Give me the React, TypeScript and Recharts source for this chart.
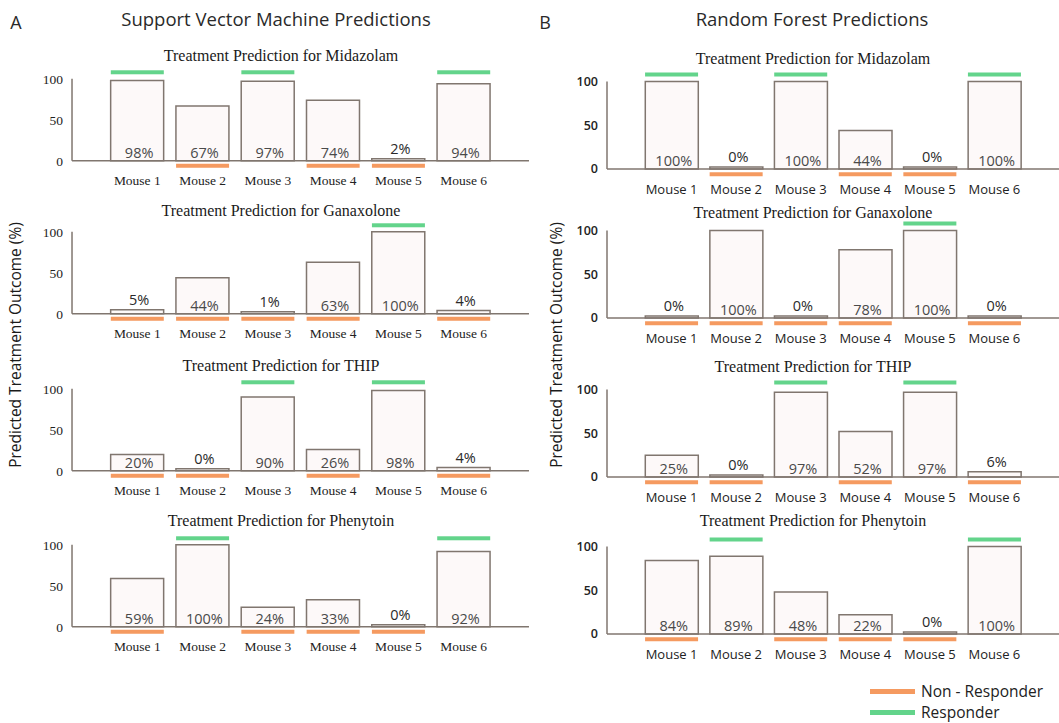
import React from 'react';
import { ComposedChart, Bar, Scatter, XAxis, YAxis, ReferenceLine, LabelList } from 'recharts';

const mice = [1, 2, 3, 4, 5, 6];
const mouseLabels = ['Mouse 1', 'Mouse 2', 'Mouse 3', 'Mouse 4', 'Mouse 5', 'Mouse 6'];
const drugs = ['Midazolam', 'Ganaxolone', 'THIP', 'Phenytoin'];
const yTicks = [0, 50, 100];

// predicted treatment outcome (%) per mouse
const svmMidazolam = [98, 67, 97, 74, 2, 94];
const svmGanaxolone = [5, 44, 1, 63, 100, 4];
const svmThip = [20, 0, 90, 26, 98, 4];
const svmPhenytoin = [59, 100, 24, 33, 0, 92];

const rfMidazolam = [100, 0, 100, 44, 0, 100];
const rfGanaxolone = [0, 100, 0, 78, 100, 0];
const rfThip = [25, 0, 97, 52, 97, 6];
const rfPhenytoin = [84, 89, 48, 22, 0, 100];

// actual outcome: true = responder, false = non-responder
const respMidazolam = [true, false, true, false, false, true];
const respGanaxolone = [false, false, false, false, true, false];
const respThip = [false, false, true, false, true, false];
const respPhenytoin = [false, true, false, false, false, true];

const RESP_LEVEL = 108;
const NON_LEVEL = -6;

const GREEN = '#63d48b';
const ORANGE = '#f59a60';
const EDGE = '#80766f';
const FILL = '#fdf9f9';
const SERIF = '"Liberation Serif", "DejaVu Serif", serif';
const SANS = '"Open Sans", "Liberation Sans", sans-serif';

const svmSets = [svmMidazolam, svmGanaxolone, svmThip, svmPhenytoin];
const rfSets = [rfMidazolam, rfGanaxolone, rfThip, rfPhenytoin];
const respSets = [respMidazolam, respGanaxolone, respThip, respPhenytoin];

// pixel layout of the small panels
const panelA = { left: 22, width: 507, k: 0.82, zeros: [161, 314, 471, 627], titleX: 281, titles: [56, 211, 366, 521], serif: true };
const panelB = { left: 557, width: 502, k: 0.875, zeros: [169, 318, 477, 634], titleX: 813, titles: [59, 213, 367, 521], serif: false };

const PctLabel = (props: any) => {
  const vb = props.viewBox && props.viewBox.width != null ? props.viewBox : props;
  const { x, y, width, height } = vb;
  const base = y + height;
  const small = height < 10;
  const cy = small ? y - 10 : base - 8;
  return (
    <text x={x + width / 2 + 2} y={cy} dy="0.35em" textAnchor="middle" fontFamily={SANS} fontSize={14.5}
      fill={small ? '#2a2a2a' : '#4a4a4a'}>
      {props.value}%
    </text>
  );
};

const markShape = (color: string) => (props: any) => (
  <rect x={props.cx - 26.5} y={props.cy - 2} width={53} height={4} fill={color} />
);

function PredictionPlot({ values, responders, left, width, zero, k, serif }: any) {
  const rows = mice.map((m, i) => ({ x: m, v: values[i], resp: RESP_LEVEL, non: NON_LEVEL, isResp: responders[i] }));
  const respRows = rows.filter((r) => r.isResp);
  const nonRows = rows.filter((r) => !r.isResp);
  const top = zero - 112 * k;
  const height = 124 * k + 22;
  const xTickFont = serif
    ? { fontFamily: SERIF, fontSize: 13.5, fill: '#222' }
    : { fontFamily: SANS, fontSize: 13, fill: '#222' };
  const yTickFont = serif
    ? { fontFamily: SERIF, fontSize: 13.5, fill: '#222' }
    : { fontFamily: SANS, fontSize: 12.5, fill: '#222', fontWeight: 600 };
  return (
    <div style={{ position: 'absolute', left, top }}>
      <ComposedChart width={width} height={height} data={rows} margin={{ top: 0, right: 0, bottom: 0, left: 0 }}>
        <XAxis type="number" dataKey="x" domain={[0, 7]} ticks={mice} interval={0}
          tickFormatter={(m: number) => mouseLabels[m - 1]} axisLine={false} tickLine={false}
          tickSize={0} tickMargin={5} height={22} tick={xTickFont} />
        <YAxis type="number" domain={[-12, 112]} ticks={yTicks} axisLine={false} tickLine={false}
          tickSize={0} tickMargin={9} width={50} tick={yTickFont} />
        <ReferenceLine y={0} stroke={EDGE} strokeWidth={1.5} />
        <ReferenceLine segment={[{ x: 0, y: 0 }, { x: 0, y: 100 }]} stroke={EDGE} strokeWidth={1.5} />
        <Bar dataKey="v" barSize={53} fill={FILL} stroke={EDGE} strokeWidth={1.5} minPointSize={2} isAnimationActive={false}>
          <LabelList dataKey="v" content={PctLabel} />
        </Bar>
        <Scatter data={respRows} dataKey="resp" shape={markShape(GREEN)} isAnimationActive={false} />
        <Scatter data={nonRows} dataKey="non" shape={markShape(ORANGE)} isAnimationActive={false} />
      </ComposedChart>
    </div>
  );
}

function Panel({ sets, cfg }: any) {
  return (
    <>
      {drugs.map((d, i) => (
        <React.Fragment key={d}>
          <div style={{ position: 'absolute', left: cfg.titleX, top: cfg.titles[i], transform: 'translate(-50%, -50%)',
            fontFamily: SERIF, fontSize: 16, color: '#1a1a1a', whiteSpace: 'nowrap' }}>
            Treatment Prediction for {d}
          </div>
          <PredictionPlot values={sets[i]} responders={respSets[i]} left={cfg.left} width={cfg.width}
            zero={cfg.zeros[i]} k={cfg.k} serif={cfg.serif} />
        </React.Fragment>
      ))}
    </>
  );
}

const header = (text: string, x: number, y: number, size: number) => (
  <div style={{ position: 'absolute', left: x, top: y, transform: 'translate(-50%, -50%)', fontFamily: SANS,
    fontSize: size, color: '#2a2a2a', whiteSpace: 'nowrap' }}>{text}</div>
);

const yLabel = (x: number) => (
  <div style={{ position: 'absolute', left: x, top: 345, transform: 'translate(-50%, -50%) rotate(-90deg)',
    fontFamily: SANS, fontSize: 15.5, color: '#1a1a1a', whiteSpace: 'nowrap' }}>
    Predicted Treatment Outcome (%)
  </div>
);

export default function App() {
  return (
    <div style={{ position: 'absolute', left: 0, top: 0, width: 1059, height: 723, background: '#fff', overflow: 'hidden' }}>
      {header('A', 16, 22, 18)}
      {header('Support Vector Machine Predictions', 276, 18, 18.5)}
      {header('B', 545, 22, 18)}
      {header('Random Forest Predictions', 812, 18, 18.5)}
      {yLabel(15)}
      {yLabel(556)}
      <Panel sets={svmSets} cfg={panelA} />
      <Panel sets={rfSets} cfg={panelB} />
      <div style={{ position: 'absolute', left: 870, top: 689, width: 45, height: 5, background: ORANGE }} />
      <div style={{ position: 'absolute', left: 921, top: 691, transform: 'translateY(-50%)', fontFamily: SANS, fontSize: 15.5, color: '#222' }}>
        Non - Responder
      </div>
      <div style={{ position: 'absolute', left: 870, top: 710, width: 45, height: 5, background: GREEN }} />
      <div style={{ position: 'absolute', left: 921, top: 712, transform: 'translateY(-50%)', fontFamily: SANS, fontSize: 15.5, color: '#222' }}>
        Responder
      </div>
    </div>
  );
}
